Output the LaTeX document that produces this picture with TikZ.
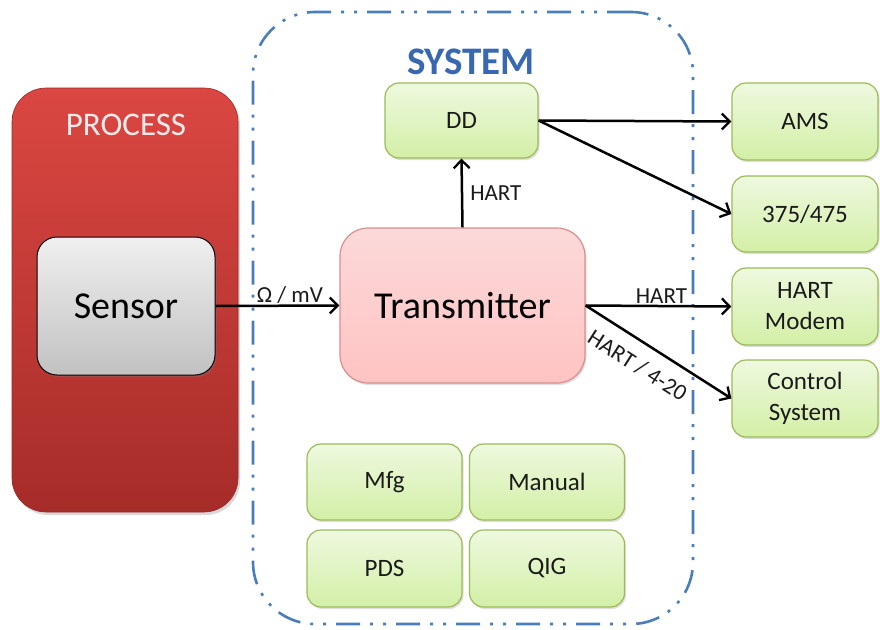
\documentclass[tikz,border=0pt]{standalone}
\usepackage{fontspec}
\setmainfont{Carlito}
\usetikzlibrary{arrows.meta,shadows}
\definecolor{gborder}{HTML}{9BBB59}
\definecolor{gtop}{HTML}{EEF9DF}
\definecolor{gbot}{HTML}{D3EFA6}
\definecolor{sysblue}{HTML}{4A7EBB}
\definecolor{systxt}{HTML}{3868B0}
\definecolor{redtop}{HTML}{DB4742}
\definecolor{redbot}{HTML}{A62C29}
\definecolor{pinktop}{HTML}{FCD9D9}
\definecolor{pinkbot}{HTML}{FFC3C3}
\definecolor{pinkborder}{HTML}{D98E8C}
\definecolor{txt}{HTML}{1A1A1A}
\tikzset{
  gbox/.style={draw=gborder, line width=1.2pt, rounded corners=14pt, top color=gtop, bottom color=gbot,
    text=txt, font=\fontsize{25}{31}\selectfont, align=center, inner sep=0pt,
    drop shadow={shadow xshift=1.5pt, shadow yshift=-2pt, opacity=0.25}},
  conn/.style={line width=2.5pt, draw=black, -{Straight Barb[length=8pt,width=16pt,line width=2.3pt]}},
  lbl/.style={text=txt, font=\fontsize{23}{25}\selectfont, inner sep=1pt}
}
\begin{document}
\begin{tikzpicture}[x=1pt,y=-1pt]
\useasboundingbox (0,0) rectangle (880,629);
% process
\node[rounded corners=34pt, minimum width=226pt, minimum height=424pt, top color=redtop, bottom color=redbot,
  draw=redbot!90!black, line width=0.6pt,
  drop shadow={shadow xshift=2pt, shadow yshift=-3pt, opacity=0.3}] (proc) at (125,300) {};
\node[text=white!92!red, font=\fontsize{33}{35}\selectfont] (proclbl) at (126,125) {PROCESS};
\node[rounded corners=20pt, minimum width=178pt, minimum height=138pt, top color=white!94!black, bottom color=white!76!black,
  draw=black, line width=1pt, font=\fontsize{38}{40}\selectfont, text=black,
  drop shadow={shadow xshift=1.5pt, shadow yshift=-2pt, opacity=0.3}] (sensor) at (126,306) {Sensor};
% system
\node[draw=sysblue, line width=2.6pt, rounded corners=62pt, minimum width=440pt, minimum height=612pt,
  dash pattern=on 24pt off 10pt on 3pt off 10pt on 3pt off 10pt] (sys) at (473,318) {};
\node[text=systxt, font=\bfseries\fontsize{39}{41}\selectfont] (syslbl) at (471,62) {SYSTEM};
% inner boxes
\node[gbox, minimum width=153pt, minimum height=75pt] (dd) at (461.5,120.5) {DD};
\node[rounded corners=28pt, minimum width=245pt, minimum height=155pt, top color=pinktop, bottom color=pinkbot,
  draw=pinkborder, line width=1.2pt, font=\fontsize{38}{40}\selectfont, text=black,
  drop shadow={shadow xshift=1.5pt, shadow yshift=-2pt, opacity=0.25}] (tx) at (462.5,305.5) {Transmitter};
\node[gbox, minimum width=155pt, minimum height=76pt] (mfg) at (384.5,482) {Mfg};
\node[gbox, minimum width=155pt, minimum height=76pt] (man) at (547,482) {Manual};
\node[gbox, minimum width=155pt, minimum height=77pt] (pds) at (384.5,568.5) {PDS};
\node[gbox, minimum width=155pt, minimum height=77pt] (qig) at (547,568.5) {QIG};
% right boxes
\node[gbox, minimum width=146pt, minimum height=77pt] (ams) at (805,121.5) {AMS};
\node[gbox, minimum width=146pt, minimum height=76pt] (tf) at (805,214) {375/475};
\node[gbox, minimum width=146pt, minimum height=77pt] (modem) at (805,306.5) {HART\\Modem};
\node[gbox, minimum width=146pt, minimum height=77pt] (ctrl) at (805,398.5) {Control\\System};
% connectors
\draw[conn] (sensor.east) -- node[lbl, above, pos=0.6] {Ω / mV} (tx.west);
\draw[conn] (tx.north) -- node[lbl, right, xshift=6pt] {HART} (dd.south);
\draw[conn] (dd.east) -- (ams.west);
\draw[conn] (dd.east) -- (tf.west);
\draw[conn] (tx.east) -- node[lbl, above, pos=0.52] {HART} (modem.west);
\draw[conn] (tx.east) -- node[lbl, sloped, below, pos=0.44, yshift=-12pt] {HART / 4-20} (ctrl.west);
\end{tikzpicture}
\end{document}
